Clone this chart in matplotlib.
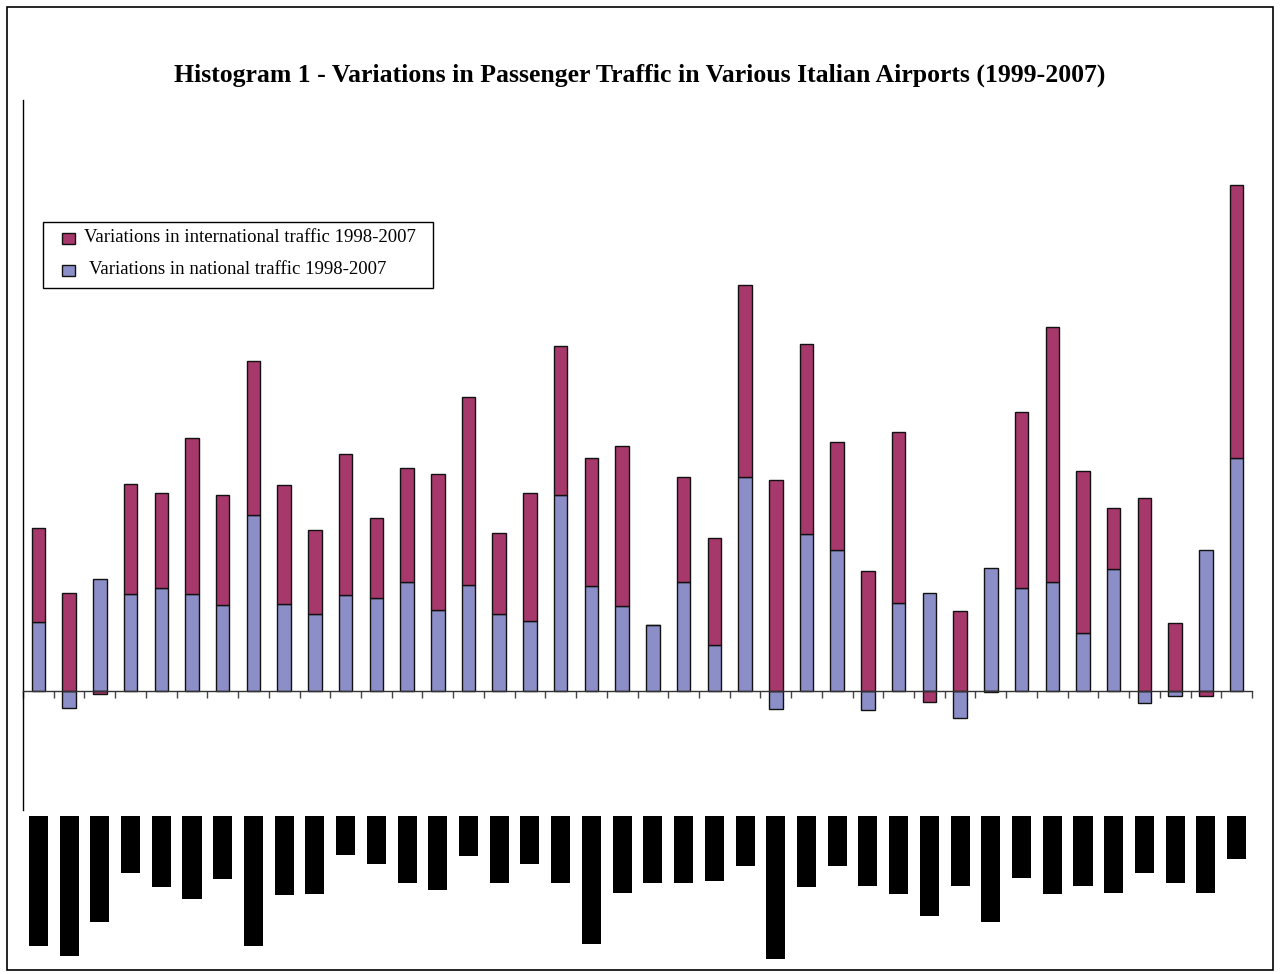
import matplotlib
matplotlib.use("Agg")
import matplotlib.pyplot as plt
from matplotlib.patches import Rectangle
import numpy as np

# Change in passenger traffic per airport, 1998-2007 (index units)
national = [68.7, -16.7, 112.3, 97.0, 102.7, 97.0, 86.0, 175.7, 87.3, 76.7,
            95.7, 93.0, 109.0, 80.7, 106.3, 76.7, 69.7, 196.0, 105.0, 85.0,
            66.3, 109.3, 46.0, 213.7, -18.0, 157.0, 140.7, -19.0, 88.0, 97.7,
            -27.3, 123.2, 103.2, 109.5, 58.2, 122.1, -12.3, -5.3, 140.7, 232.6]
international = [94.6, 98.3, -3.3, 109.7, 95.6, 156.0, 110.0, 154.3, 118.4, 84.0,
                 141.0, 79.7, 114.0, 136.6, 187.4, 81.3, 128.6, 149.3, 127.7, 159.7,
                 0.0, 104.7, 107.3, 192.6, 211.3, 189.7, 108.6, 120.3, 170.7, -10.7,
                 79.6, -1.4, 176.1, 254.7, 161.4, 60.7, 193.3, 67.7, -5.3, 273.0]
# Airport name labels (shown as blacked-out blocks) - depth of each block
label_block_depth = [130, 140, 106, 57, 71, 83, 63, 130, 79, 78, 39, 48, 67, 74,
                     40, 67, 48, 67, 128, 77, 67, 67, 65, 50, 143, 71, 50, 70,
                     78, 100, 70, 106, 62, 78, 70, 77, 57, 67, 77, 43]

title = "Histogram 1 - Variations in Passenger Traffic in Various Italian Airports (1999-2007)"
label_intl = "Variations in international traffic 1998-2007"
label_nat = "Variations in national traffic 1998-2007"

RED = "#A7386B"
BLUE = "#8C8FC7"
EDGE = "#111111"

W, H = 1280, 974
fig = plt.figure(figsize=(W / 100, H / 100), dpi=100)
fig.patch.set_facecolor("white")


def fx(px):
    return px / W


def fy(py):
    return 1 - py / H


def frect(x0, y0, x1, y1, **kw):
    """Rectangle in figure pixel coordinates (y measured from the top)."""
    r = Rectangle((fx(x0), fy(y1)), fx(x1) - fx(x0), fy(y0) - fy(y1),
                  transform=fig.transFigure, **kw)
    fig.patches.append(r)
    return r


# outer frame
frect(7, 7, 1273, 970, fill=False, edgecolor="black", linewidth=1.2)

fig.text(0.5, fy(75), title, ha="center", va="center",
         fontfamily="Liberation Serif", fontweight="bold", fontsize=18.5)

# main chart
left, right, top, bottom = 23, 1252, 100, 810
ax = fig.add_axes([fx(left), fy(bottom), fx(right) - fx(left), fy(top) - fy(bottom)])
n = len(national)
x = np.arange(n)
nat = np.array(national)
intl = np.array(international)

nat_bottom = np.zeros(n)
intl_bottom = np.where(intl >= 0, np.maximum(nat, 0), np.minimum(nat, 0))

bw = 0.44
ax.bar(x, nat, bw, bottom=nat_bottom, color=BLUE, edgecolor=EDGE, linewidth=1.0, zorder=2)
ax.bar(x, intl, bw, bottom=intl_bottom, color=RED, edgecolor=EDGE, linewidth=1.0, zorder=2)

ax.set_xlim(-0.5, n - 0.5)
ax.set_ylim(-119, 591)
for s in ["top", "right"]:
    ax.spines[s].set_visible(False)
ax.spines["left"].set_color("black")
ax.spines["left"].set_linewidth(1.0)
ax.spines["bottom"].set_position(("data", 0))
ax.spines["bottom"].set_color("#333333")
ax.spines["bottom"].set_linewidth(1.0)
ax.spines["bottom"].set_zorder(3)
ax.set_xticks(np.arange(n + 1) - 0.5)
ax.set_xticklabels([])
ax.tick_params(axis="x", direction="out", length=5, width=1, color="#444444")
ax.set_yticks([])

# legend box
frect(43, 222, 433, 288, facecolor="white", edgecolor="black", linewidth=1.0, zorder=5)
legend_rows = [(label_intl, RED, 238, 84), (label_nat, BLUE, 270, 89)]
for text, color, yc, tx in legend_rows:
    frect(62, yc - 5.5, 75, yc + 5.5, facecolor=color, edgecolor=EDGE, linewidth=1.0, zorder=6)
    fig.text(fx(tx), fy(yc), text, ha="left", va="center", zorder=7,
             fontfamily="Liberation Serif", fontsize=13.5)

# blacked-out airport labels under the chart
lab_top, lab_bottom = 816, 966
ax2 = fig.add_axes([fx(left), fy(lab_bottom), fx(right) - fx(left), fy(lab_top) - fy(lab_bottom)])
ax2.bar(x, label_block_depth, 0.62, color="black", linewidth=0)
ax2.set_xlim(-0.5, n - 0.5)
ax2.set_ylim(150, 0)
ax2.axis("off")

fig.savefig("out.png", dpi=100, facecolor="white")
